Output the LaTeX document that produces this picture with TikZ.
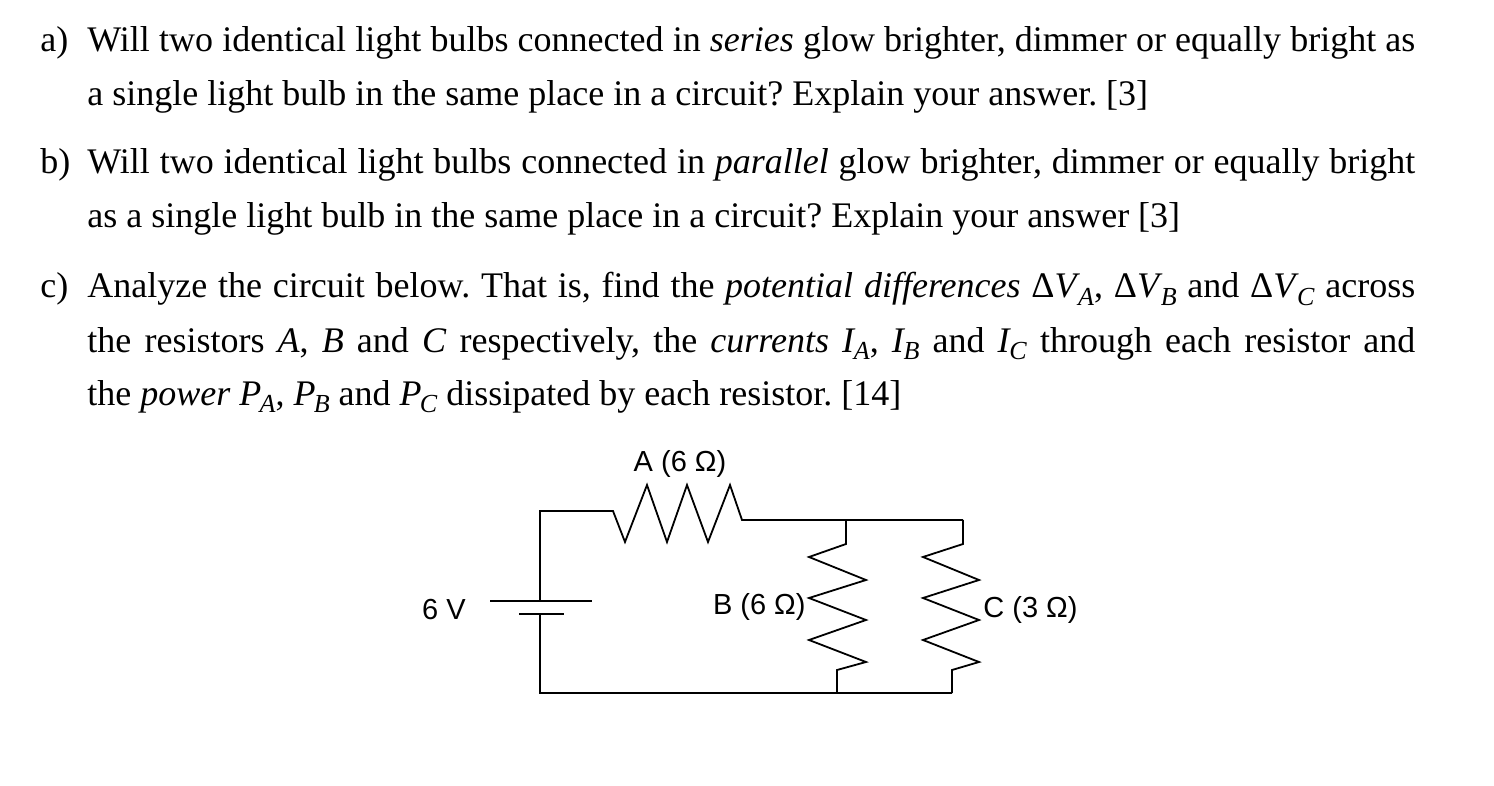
\documentclass[tikz,border=0pt]{standalone}
\usepackage{fontspec}
\setmainfont{Liberation Serif}
\newfontfamily\arial{Liberation Sans}
\newcommand\lsub[1]{\kern-0.05em\raisebox{-0.22em}{\fontsize{13}{14}\selectfont\textit{#1}}}
\frenchspacing
\begin{document}
\begin{tikzpicture}[x=0.5pt,y=-0.5pt,
  txt/.style={anchor=base west,inner sep=0,font=\fontsize{18}{20}\selectfont},
  lab/.style={inner sep=0,font=\arial\fontsize{14.5}{16}\selectfont},
  wire/.style={line width=0.9pt}]
\useasboundingbox (0,0) rectangle (1494,786);
\node[txt] (la) at (40,52) {a)};
\node[txt] (a1) at (87,52) {\makebox[664pt][s]{Will two identical light bulbs connected in \textit{series} glow brighter, dimmer or equally bright as}};
\node[txt] (a2) at (87,106) {a single light bulb in the same place in a circuit? Explain your answer. [3]};
\node[txt] (lb) at (40,174) {b)};
\node[txt] (b1) at (87,174) {\makebox[664pt][s]{Will two identical light bulbs connected in \textit{parallel} glow brighter, dimmer or equally bright}};
\node[txt] (b2) at (87,228) {as a single light bulb in the same place in a circuit? Explain your answer [3]};
\node[txt] (lc) at (40,298) {c)};
\node[txt] (c1) at (87,298) {\makebox[664pt][s]{Analyze the circuit below. That is, find the \textit{potential differences} Δ\textit{V}\lsub{A}, Δ\textit{V}\lsub{B} and Δ\textit{V}\lsub{C} across}};
\node[txt] (c2) at (87,352) {\makebox[664pt][s]{the resistors \textit{A}, \textit{B} and \textit{C} respectively, the \textit{currents} \textit{I}\lsub{A}, \textit{I}\lsub{B} and \textit{I}\lsub{C} through each resistor and}};
\node[txt] (c3) at (87,405) {the \textit{power} \textit{P}\lsub{A}, \textit{P}\lsub{B} and \textit{P}\lsub{C} dissipated by each resistor. [14]};
% circuit
\coordinate (bt) at (540,601);
\coordinate (bb) at (540,614);
\draw[wire] (bt) -- (540,511) -- (613,511) -- (625,542) -- (647,485) -- (667,542) -- (687,485) -- (708,542) -- (730,485) -- (742,520) -- (963,520);
\draw[wire] (846,520) -- (846,544) -- (809,557) -- (866,580) -- (809,598) -- (866,620) -- (809,640) -- (866,662) -- (837,670) -- (837,693);
\draw[wire] (963,520) -- (963,544) -- (923,557) -- (979,580) -- (923,598) -- (979,620) -- (923,640) -- (979,662) -- (952,670) -- (952,693);
\draw[wire] (bb) -- (540,693) -- (952,693);
\draw[wire] (490,601) -- (592,601);
\draw[wire] (519,614) -- (564,614);
\node[lab] (lA) at (680,464) {A (6 Ω)};
\node[lab,anchor=east] (lB) at (806,607) {B (6 Ω)};
\node[lab,anchor=west] (lC) at (983,610) {C (3 Ω)};
\node[lab] (lV) at (444,610) {6 V};
\end{tikzpicture}
\end{document}
